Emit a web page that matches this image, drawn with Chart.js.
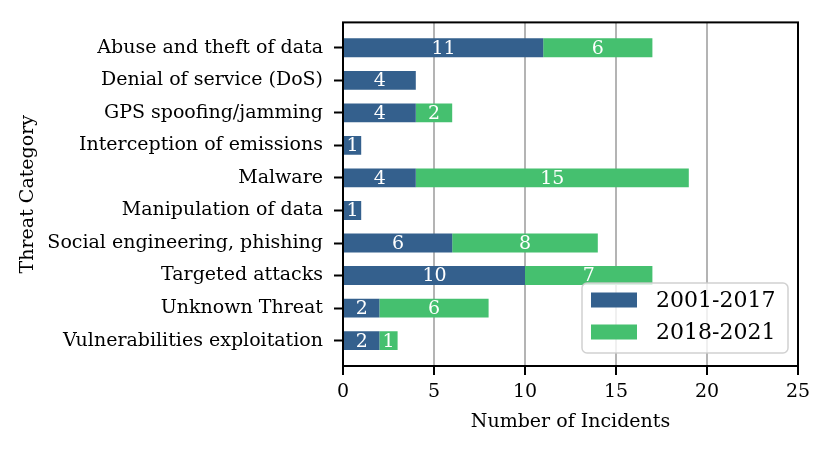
<!DOCTYPE html>
<html>
<head>
<meta charset="utf-8">
<script src="https://cdn.jsdelivr.net/npm/chart.js@4.4.1/dist/chart.umd.min.js"></script>
<style>
  html, body { margin: 0; padding: 0; background: #fff; }
  canvas { display: block; }
</style>
</head>
<body>
<canvas id="chart" width="830" height="452"></canvas>
<script>
const categories = [
  'Abuse and theft of data',
  'Denial of service (DoS)',
  'GPS spoofing/jamming',
  'Interception of emissions',
  'Malware',
  'Manipulation of data',
  'Social engineering, phishing',
  'Targeted attacks',
  'Unknown Threat',
  'Vulnerabilities exploitation'
];
const incidents2001to2017 = [11, 4, 4, 1, 4, 1, 6, 10, 2, 2];
const incidents2018to2021 = [6, 0, 2, 0, 15, 0, 8, 7, 6, 1];
const xTicks = [0, 5, 10, 15, 20, 25];
const seriesLabels = ['2001-2017', '2018-2021'];
const seriesColors = ['#34608d', '#45c06f'];

const serif = "'DejaVu Serif', serif";
const font = { family: serif, size: 19 };

// numbers written inside each bar segment
const barLabels = {
  id: 'barLabels',
  afterDraw(chart) {
    const ctx = chart.ctx;
    ctx.save();
    ctx.font = `19px ${serif}`;
    ctx.fillStyle = '#fff';
    ctx.textAlign = 'center';
    ctx.textBaseline = 'middle';
    chart.data.datasets.forEach((ds, di) => {
      chart.getDatasetMeta(di).data.forEach((bar, i) => {
        const v = ds.data[i].x;
        if (!v) return;
        const p = bar.getProps(['x', 'y', 'base'], true);
        ctx.fillText(String(v), (p.x + p.base) / 2, p.y + 1);
      });
    });
    ctx.restore();
  }
};

// full frame round the plot plus a legend inside it, bottom right
const frameAndLegend = {
  id: 'frameAndLegend',
  afterDraw(chart) {
    const ctx = chart.ctx;
    const a = chart.chartArea;
    ctx.save();
    ctx.strokeStyle = '#000';
    ctx.lineWidth = 2;
    ctx.strokeRect(a.left, a.top, a.right - a.left, a.bottom - a.top);

    const w = 206, h = 70;
    const bx = a.right - 10 - w, by = a.bottom - 13 - h;
    ctx.beginPath();
    ctx.roundRect(bx, by, w, h, 5);
    ctx.fillStyle = 'rgba(255,255,255,0.8)';
    ctx.fill();
    ctx.strokeStyle = 'rgba(204,204,204,0.9)';
    ctx.lineWidth = 1.5;
    ctx.stroke();

    ctx.font = `22px ${serif}`;
    ctx.textAlign = 'left';
    ctx.textBaseline = 'middle';
    chart.data.datasets.forEach((ds, i) => {
      const rowY = by + 17 + i * 32;
      ctx.fillStyle = ds.backgroundColor;
      ctx.fillRect(bx + 9, rowY - 7.5, 46, 15);
      ctx.fillStyle = '#000';
      ctx.fillText(ds.label, bx + 74, rowY + 1);
    });
    ctx.restore();
  }
};

new Chart(document.getElementById('chart'), {
  type: 'bar',
  data: {
    datasets: [
      {
        label: seriesLabels[0],
        data: incidents2001to2017.map((v, i) => ({ x: v, y: i })),
        backgroundColor: seriesColors[0]
      },
      {
        label: seriesLabels[1],
        data: incidents2018to2021.map((v, i) => ({ x: v, y: i })),
        backgroundColor: seriesColors[1]
      }
    ]
  },
  options: {
    indexAxis: 'y',
    responsive: false,
    animation: false,
    events: [],
    barPercentage: 0.58,
    categoryPercentage: 1,
    layout: { padding: { top: 19, right: 32, left: 0, bottom: 0 } },
    plugins: { legend: { display: false }, tooltip: { enabled: false } },
    scales: {
      x: {
        type: 'linear',
        stacked: true,
        min: 0,
        max: 25,
        z: 1,
        afterBuildTicks: s => { s.ticks = xTicks.map(v => ({ value: v })); },
        afterFit: s => { s.height = 86; },
        ticks: { font, color: '#000', padding: 6, maxRotation: 0 },
        grid: {
          color: c => (c.tick && (c.tick.value === 0 || c.tick.value === 25)) ? 'rgba(0,0,0,0)' : '#b4b4b4',
          lineWidth: 2,
          tickColor: '#000',
          tickLength: 9,
          tickWidth: 2
        },
        border: { display: false },
        title: { display: true, text: 'Number of Incidents', font, color: '#000', padding: { bottom: 19 } }
      },
      y: {
        type: 'linear',
        stacked: true,
        reverse: true,
        offset: false,
        min: -0.78,
        max: 9.78,
        z: 1,
        afterBuildTicks: s => { s.ticks = categories.map((_, i) => ({ value: i })); },
        afterFit: s => { s.width = 343; },
        ticks: { autoSkip: false, font, color: '#000', padding: 11, callback: v => categories[v] },
        grid: { offset: false, color: 'rgba(0,0,0,0)', tickColor: '#000', tickLength: 9, tickWidth: 2 },
        border: { display: false },
        title: { display: true, text: 'Threat Category', font, color: '#000', padding: { top: 17 } }
      }
    }
  },
  plugins: [barLabels, frameAndLegend]
});
</script>
</body>
</html>
